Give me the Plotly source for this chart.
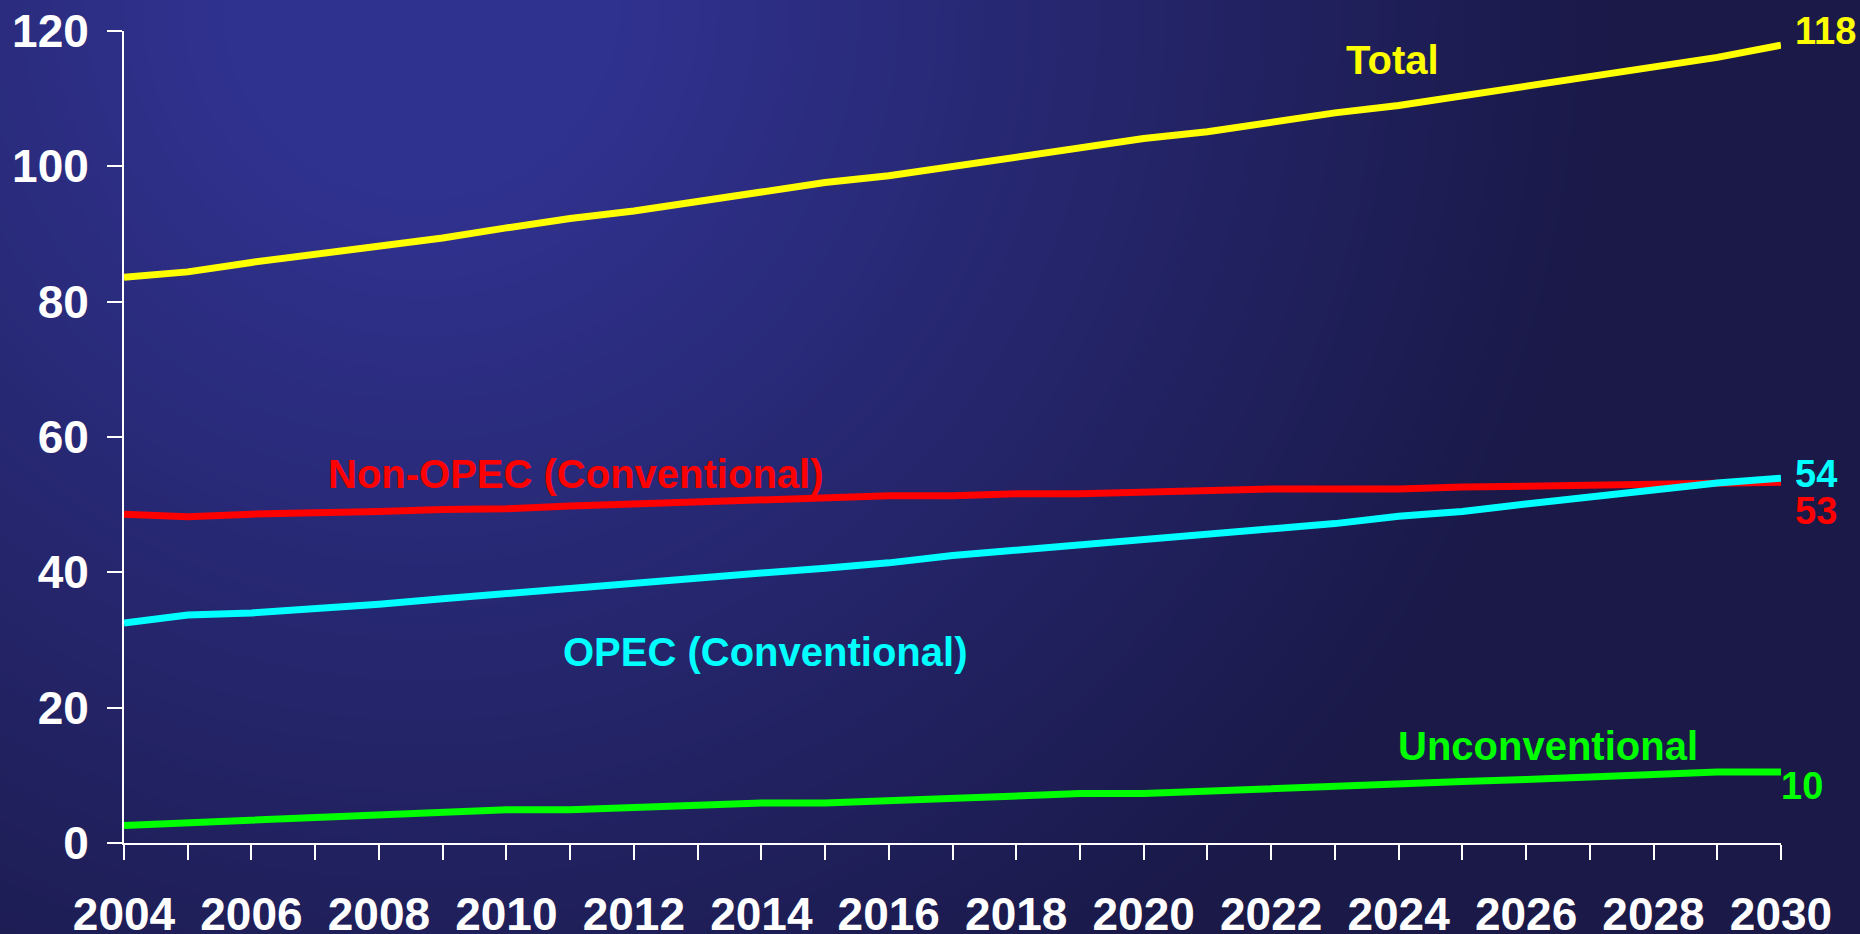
import base64
import struct
import zlib

import numpy as np
import plotly.graph_objects as go

# ---------------- data ----------------
years = list(range(2004, 2031))
total = [83.6, 84.4, 85.8, 87.0, 88.4, 89.4, 90.9, 92.3, 93.4, 94.8, 96.2, 97.6, 98.6,
         100.0, 101.3, 102.7, 104.1, 105.1, 106.5, 107.9, 109.0, 110.4, 111.8, 113.2,
         114.6, 116.1, 117.9]
non_opec = [48.6, 48.2, 48.6, 48.7, 49.0, 49.3, 49.4, 49.8, 50.1, 50.4, 50.8, 51.1, 51.3,
            51.3, 51.6, 51.6, 51.9, 52.0, 52.3, 52.3, 52.3, 52.6, 52.7, 53.0, 53.0, 53.2,
            53.3]
opec = [32.5, 33.7, 34.0, 34.6, 35.3, 36.1, 36.9, 37.7, 38.3, 39.2, 39.9, 40.6, 41.4,
        42.5, 43.3, 44.0, 44.8, 45.8, 46.5, 47.2, 48.3, 49.0, 50.1, 51.1, 52.2, 53.2, 53.9]
unconv = [2.6, 3.0, 3.4, 3.8, 4.2, 4.5, 4.9, 4.9, 5.2, 5.6, 5.9, 5.9, 6.3, 6.6, 7.0, 7.3,
          7.3, 7.7, 8.0, 8.4, 8.7, 9.1, 9.4, 9.8, 10.1, 10.5, 10.5]

series_names = ["Total", "Non-OPEC (Conventional)", "OPEC (Conventional)", "Unconventional"]
series_values = [total, non_opec, opec, unconv]
series_colors = ["#ffff00", "#ff0000", "#00ffff", "#00ff00"]
end_labels = ["118", "53", "54", "10"]

W, H = 1860, 934
ML, MR, MT, MB = 124, 79, 31, 91

# ---------------- background gradient image ----------------
def make_png(arr):
    h, w, _ = arr.shape
    raw = b"".join(b"\x00" + arr[r].tobytes() for r in range(h))

    def chunk(tag, data):
        c = struct.pack(">I", len(data)) + tag + data
        return c + struct.pack(">I", zlib.crc32(tag + data) & 0xFFFFFFFF)

    return (b"\x89PNG\r\n\x1a\n"
            + chunk(b"IHDR", struct.pack(">IIBBBBB", w, h, 8, 2, 0, 0, 0))
            + chunk(b"IDAT", zlib.compress(raw, 9))
            + chunk(b"IEND", b""))


gw, gh = W // 2, H // 2
yy, xx = np.mgrid[0:gh, 0:gw].astype(float)
xx *= 2
yy *= 2
d = np.sqrt((xx - 420) ** 2 + (yy - 0) ** 2)
f = np.clip((d - 200) / 1000.0, 0, 1)
light = np.array([48, 50, 143], float)
dark = np.array([26, 25, 72], float)
img = (light[None, None, :] * (1 - f[..., None]) + dark[None, None, :] * f[..., None])
img = np.clip(img, 0, 255).astype(np.uint8)
bg_uri = "data:image/png;base64," + base64.b64encode(make_png(img)).decode()

pw = W - ML - MR
ph = H - MT - MB

# ---------------- figure ----------------
fig = go.Figure()
for name, vals, col in zip(series_names, series_values, series_colors):
    fig.add_trace(go.Scatter(x=years, y=vals, mode="lines", name=name,
                             line=dict(color=col, width=7), showlegend=False))

font_family = "Arial, Liberation Sans, sans-serif"

# series labels
label_pos = [(2023.9, 115.7), (2011.1, 54.6), (2014.06, 28.2), (2026.34, 14.4)]
for name, col, (lx, ly) in zip(series_names, series_colors, label_pos):
    fig.add_annotation(x=lx, y=ly, xref="x", yref="y", text="<b>%s</b>" % name,
                       showarrow=False, xanchor="center", yanchor="middle",
                       font=dict(family=font_family, size=40, color=col))

# end value labels
end_pos = [(120.0, 12), (49.0, 12), (54.6, 12), (8.4, -2)]
for lab, col, (ly, xs) in zip(end_labels, series_colors, end_pos):
    fig.add_annotation(x=years[-1], y=ly, xref="x", yref="y", text="<b>%s</b>" % lab,
                       showarrow=False, xanchor="left", yanchor="middle", xshift=xs,
                       font=dict(family=font_family, size=38, color=col))

fig.add_layout_image(dict(source=bg_uri, xref="paper", yref="paper",
                          x=-ML / pw, y=1 + MT / ph, sizex=W / pw, sizey=H / ph,
                          xanchor="left", yanchor="top", sizing="stretch",
                          layer="below"))

axis_common = dict(showgrid=False, zeroline=False, showline=True, linecolor="white",
                   linewidth=2, ticks="outside", ticklen=15, tickwidth=2,
                   tickcolor="white", automargin=False,
                   tickfont=dict(family=font_family, size=46, color="white"))

fig.update_xaxes(range=[2004, 2030], tick0=2004, dtick=2,
                 tickformat="d", ticklabelstandoff=15,
                 minor=dict(ticks="outside", ticklen=15, tickwidth=2,
                            tickcolor="white", dtick=1, tick0=2004),
                 **axis_common)
fig.update_yaxes(range=[0, 120], tick0=0, dtick=20, ticklabelstandoff=9,
                 **axis_common)

fig.update_layout(template="none", width=W, height=H,
                  margin=dict(l=ML, r=MR, t=MT, b=MB, pad=0, autoexpand=False),
                  paper_bgcolor="#1e1d58", plot_bgcolor="rgba(0,0,0,0)",
                  font=dict(family=font_family), showlegend=False)

fig.update_xaxes(tickprefix="<b>", ticksuffix="</b>")
fig.update_yaxes(tickprefix="<b>", ticksuffix="</b>")

fig.write_html(
    "out.html",
    config={"displayModeBar": False},
    post_script="document.body.style.margin='0';document.body.style.padding='0';"
                "document.body.style.overflow='hidden';"
                "document.documentElement.style.overflow='hidden';",
)
